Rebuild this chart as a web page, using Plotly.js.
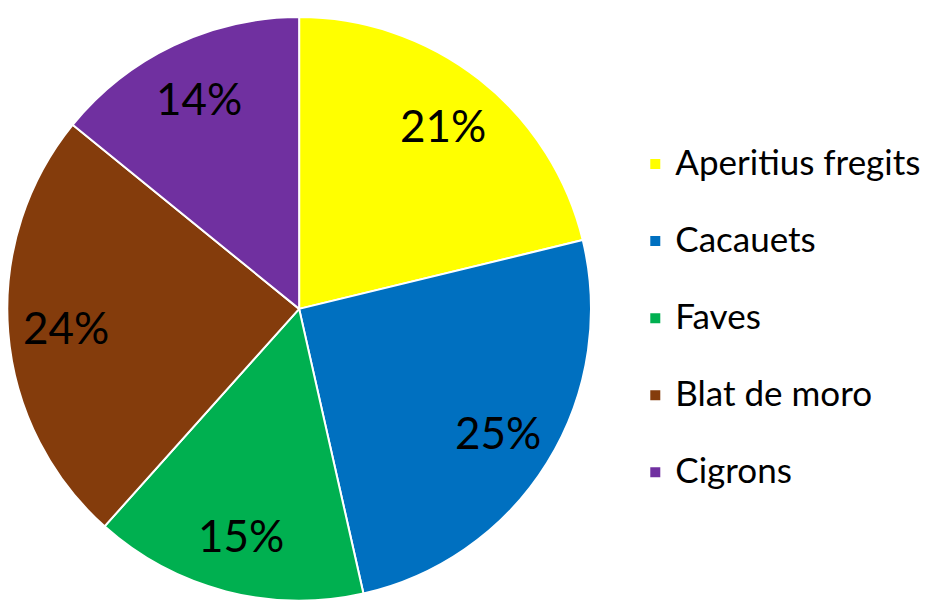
<!DOCTYPE html>
<html>
<head>
<meta charset="utf-8">
<script src="https://cdn.plot.ly/plotly-3.0.1.min.js"></script>
<style>html,body{margin:0;padding:0;background:#fff;}#chart{width:937px;height:608px;}</style>
</head>
<body>
<div id="chart"></div>
<script>
const categories = ["Aperitius fregits", "Cacauets", "Faves", "Blat de moro", "Cigrons"];
const values = [21, 25, 15, 24, 14];
const colors = ["#FFFF00", "#0070C0", "#00B050", "#843C0C", "#7030A0"];

const W = 937, H = 608;
const domX = [0.0075, 0.631], domY = [0.012, 0.972];
const FONT = 'Lato, "Open Sans", sans-serif';

const legendLabels = categories.map(c => '<span style="font-size:35px">' + c + '</span><br> ');

const trace = {
  type: 'pie',
  labels: legendLabels,
  values: values,
  sort: false,
  direction: 'clockwise',
  rotation: 0,
  marker: {colors: colors, line: {color: '#ffffff', width: 2}},
  textinfo: 'none',
  hoverinfo: 'label+percent',
  domain: {x: domX, y: domY}
};

// percentage labels placed toward the outer part of each slice (like "best fit")
const total = values.reduce((a, b) => a + b, 0);
const cxPx = (domX[0] + domX[1]) / 2 * W;
const cyPx = (domY[0] + domY[1]) / 2 * H;
const R = Math.min((domX[1] - domX[0]) * W, (domY[1] - domY[0]) * H) / 2;
const labelFrac = 0.80;
let cum = 0;
const annotations = values.map(v => {
  const mid = (cum + v / 2) / total * 2 * Math.PI;
  cum += v;
  const px = cxPx + labelFrac * R * Math.sin(mid);
  const py = cyPx + labelFrac * R * Math.cos(mid);
  return {
    xref: 'paper', yref: 'paper',
    x: px / W, y: py / H,
    xanchor: 'center', yanchor: 'middle',
    showarrow: false,
    text: Math.round(v / total * 100) + '%',
    font: {family: FONT, size: 44, color: '#000000'}
  };
});

const layout = {
  width: W,
  height: H,
  margin: {l: 0, r: 0, t: 0, b: 0},
  paper_bgcolor: '#ffffff',
  showlegend: true,
  legend: {
    x: 0.678, xanchor: 'left',
    y: 0.7715, yanchor: 'top',
    valign: 'top',
    font: {family: FONT, size: 28.5, color: '#000000'},
    bgcolor: 'rgba(0,0,0,0)'
  },
  annotations: annotations,
  font: {family: FONT}
};

Plotly.newPlot('chart', [trace], layout, {displayModeBar: false, staticPlot: true});
</script>
</body>
</html>
